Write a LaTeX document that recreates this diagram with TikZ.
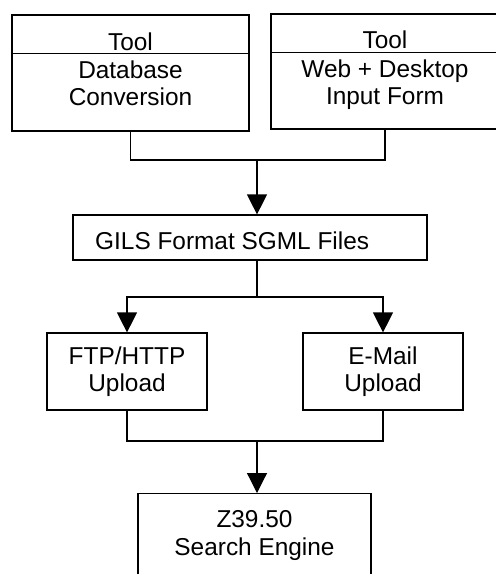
\documentclass[tikz,border=0pt]{standalone}
\usepackage{fontspec}
\setmainfont{Liberation Sans}
\usetikzlibrary{arrows.meta,positioning,calc}

\begin{document}
\begin{tikzpicture}[
		x=1pt,y=1pt,
		font=\fontsize{24.4}{27.3}\selectfont,
		toolframe/.style={draw,rectangle,line width=1.2pt,minimum width=#1,minimum height=116pt,inner sep=0pt},
		procbox/.style={draw,rectangle,line width=1.2pt,minimum width=160pt,minimum height=77pt,align=center,inner sep=0pt},
		flow/.style={line width=1.2pt},
		flowarrow/.style={flow,-{Triangle[width=20pt,length=20pt]}}
		]
		\useasboundingbox (0,0) rectangle (496,-574);
		\clip (0,0) rectangle (496,-574);
		
		% Tools
		\node[toolframe=237pt] (dbtool) at (130.5,-73) {};
		\draw[flow] ([yshift=-39pt]dbtool.north west) -- ([yshift=-39pt]dbtool.north east);
		\node[anchor=base] (dbhead) at (130.5,-50) {Tool};
		\node[align=center] (dbtext) at (130.5,-83.5) {Database\\Conversion};
		
		\node[toolframe=228pt,minimum height=115pt] (webtool) at (385,-71.5) {};
		\draw[flow] ([yshift=-39pt]webtool.north west) -- ([yshift=-39pt]webtool.north east);
		\node[anchor=base] (webhead) at (385,-48) {Tool};
		\node[align=center] (webtext) at (385,-85) {Web + Desktop\\Input Form};
		
		% SGML files
		\node[draw,rectangle,line width=1.2pt,minimum width=354pt,minimum height=45pt] (gils) at (250,-237.5) {};
		\node[anchor=base west,inner sep=0pt] (gilstext) at (95,-249) {GILS Format SGML Files};
		
		% Uploads
		\node[procbox] (ftp) at (127,-371.5) {FTP/HTTP\\Upload};
		\node[procbox] (email) at (383,-371.5) {E-Mail\\Upload};
		
		% Search engine
		\node[draw,rectangle,line width=1.2pt,minimum width=233pt,minimum height=100pt,anchor=north] (zeng) at (254.5,-493) {};
		\node[align=center] (zengtext) at (254.5,-535.5) {Z39.50\\Search Engine};
		
		% Connections
		\coordinate (joinA) at (257,-160);
		\coordinate (joinB) at (257,-297);
		\coordinate (joinC) at (257,-441);
		\draw[flow] (dbtool.south) |- (joinA) -| (webtool.south);
		\draw[flowarrow] (joinA) -- (joinA |- gils.north);
		\draw[flow] (joinB |- gils.south) -- (joinB);
		\draw[flowarrow] (joinB) -| (ftp.north);
		\draw[flowarrow] (joinB) -| (email.north);
		\draw[flow] (ftp.south) |- (joinC) -| (email.south);
		\draw[flowarrow] (joinC) -- (joinC |- zeng.north);
		
	\end{tikzpicture}
\end{document}
